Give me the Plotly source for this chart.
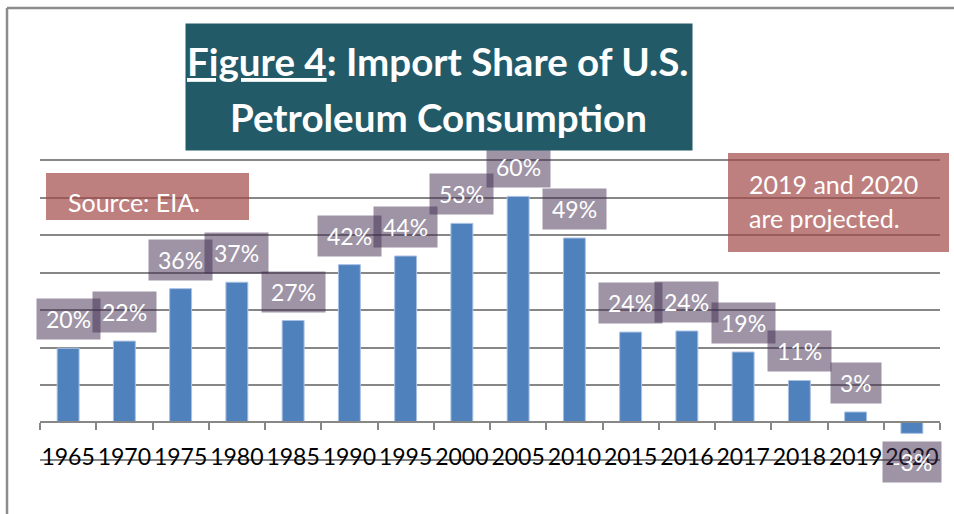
import plotly.graph_objects as go

# ---- data ----
years = ["1965", "1970", "1975", "1980", "1985", "1990", "1995", "2000",
         "2005", "2010", "2015", "2016", "2017", "2018", "2019", "2020"]
import_share = [19.8, 21.7, 35.7, 37.4, 27.2, 42.1, 44.4, 53.1,
                60.3, 49.2, 24.1, 24.4, 18.8, 11.2, 2.8, -2.9]
title_lines = ["<u>Figure 4</u>: Import Share of U.S.", "Petroleum Consumption"]
source_note = "Source: EIA."
projection_note = ["2019 and 2020", "are projected."]

# ---- layout geometry (pixels) ----
W, H = 954, 514
L, R, T, B = 40, 940, 159, 461
Y_RANGE = [-10.27, 70.27]

def px(xp):
    return (xp - L) / (R - L)

def py(yp):
    return (B - yp) / (B - T)

FONT = "Lato, 'Open Sans', sans-serif"
GRID = "#878787"

fig = go.Figure()
fig.add_trace(go.Bar(
    x=years, y=import_share,
    marker=dict(color="#4f81bd", line=dict(color="#a9c1e3", width=1)),
    hoverinfo="skip",
))

annotations = []
for i, v in enumerate(import_share):
    pos = v >= 0
    annotations.append(dict(
        x=i, y=v, xref="x", yref="y", showarrow=False,
        text=f"{v:.0f}%",
        font=dict(family=FONT, size=23, color="white"),
        bgcolor="rgba(61,41,77,0.5)",
        borderpad=9, height=22,
        yanchor="bottom" if pos else "top",
        yshift=8 if pos else -8,
    ))

# title box (background) and its two lines
annotations.append(dict(
    xref="paper", yref="paper", x=px(439), y=py(87),
    xanchor="center", yanchor="middle", showarrow=False,
    text=" ", bgcolor="#225a68", width=506, height=126, borderpad=0,
))
for line, yc in zip(title_lines, [61, 117]):
    annotations.append(dict(
        xref="paper", yref="paper", x=px(438), y=py(yc),
        xanchor="center", yanchor="middle", showarrow=False,
        text=line,
        font=dict(family=FONT, size=38.5, color="white", weight="bold"),
    ))
# source note
annotations.append(dict(
    xref="paper", yref="paper", x=px(66), y=py(202),
    xanchor="left", yanchor="middle", showarrow=False, align="left",
    text=source_note,
    font=dict(family=FONT, size=25, color="white"),
))
# projection note
for line, yc in zip(projection_note, [184, 218]):
    annotations.append(dict(
        xref="paper", yref="paper", x=px(747), y=py(yc),
        xanchor="left", yanchor="middle", showarrow=False, align="left",
        text=line,
        font=dict(family=FONT, size=25, color="white"),
    ))

shapes = [
    # note boxes
    dict(type="rect", xref="paper", yref="paper", layer="above",
         x0=px(46), x1=px(249), y0=py(220), y1=py(173),
         fillcolor="rgba(162,74,71,0.7)", line=dict(width=0)),
    dict(type="rect", xref="paper", yref="paper", layer="above",
         x0=px(728), x1=px(949), y0=py(252), y1=py(153),
         fillcolor="rgba(162,74,71,0.7)", line=dict(width=0)),
    # outer frame (top and left edges)
    dict(type="line", xref="paper", yref="paper", layer="below",
         x0=px(7), x1=px(W), y0=py(8), y1=py(8),
         line=dict(color="#8c8c8c", width=2.5)),
    dict(type="line", xref="paper", yref="paper", layer="below",
         x0=px(7), x1=px(7), y0=py(8), y1=py(H),
         line=dict(color="#8c8c8c", width=2.5)),
]

zero_pos = (0 - Y_RANGE[0]) / (Y_RANGE[1] - Y_RANGE[0])

fig.update_layout(
    width=W, height=H,
    margin=dict(l=L, r=W - R, t=T, b=H - B, pad=0),
    paper_bgcolor="white", plot_bgcolor="white",
    showlegend=False, bargap=0.61,
    annotations=annotations, shapes=shapes,
    font=dict(family=FONT),
)
fig.update_xaxes(
    type="category", range=[-0.5, len(years) - 0.5],
    anchor="free", position=zero_pos,
    showline=True, linecolor=GRID, linewidth=2,
    ticks="outside", tickson="boundaries", ticklen=7,
    tickcolor=GRID, tickwidth=2, tickangle=0,
    tickfont=dict(family=FONT, size=23, color="black"),
    ticklabelstandoff=14, showgrid=False, zeroline=False,
)
fig.update_yaxes(
    range=Y_RANGE, dtick=10, tick0=0,
    showgrid=True, gridcolor=GRID, gridwidth=2,
    showticklabels=False, zeroline=False, showline=False, ticks="",
)

fig.write_html("out.html", config={"displayModeBar": False},
               post_script="document.body.style.margin='0';")
